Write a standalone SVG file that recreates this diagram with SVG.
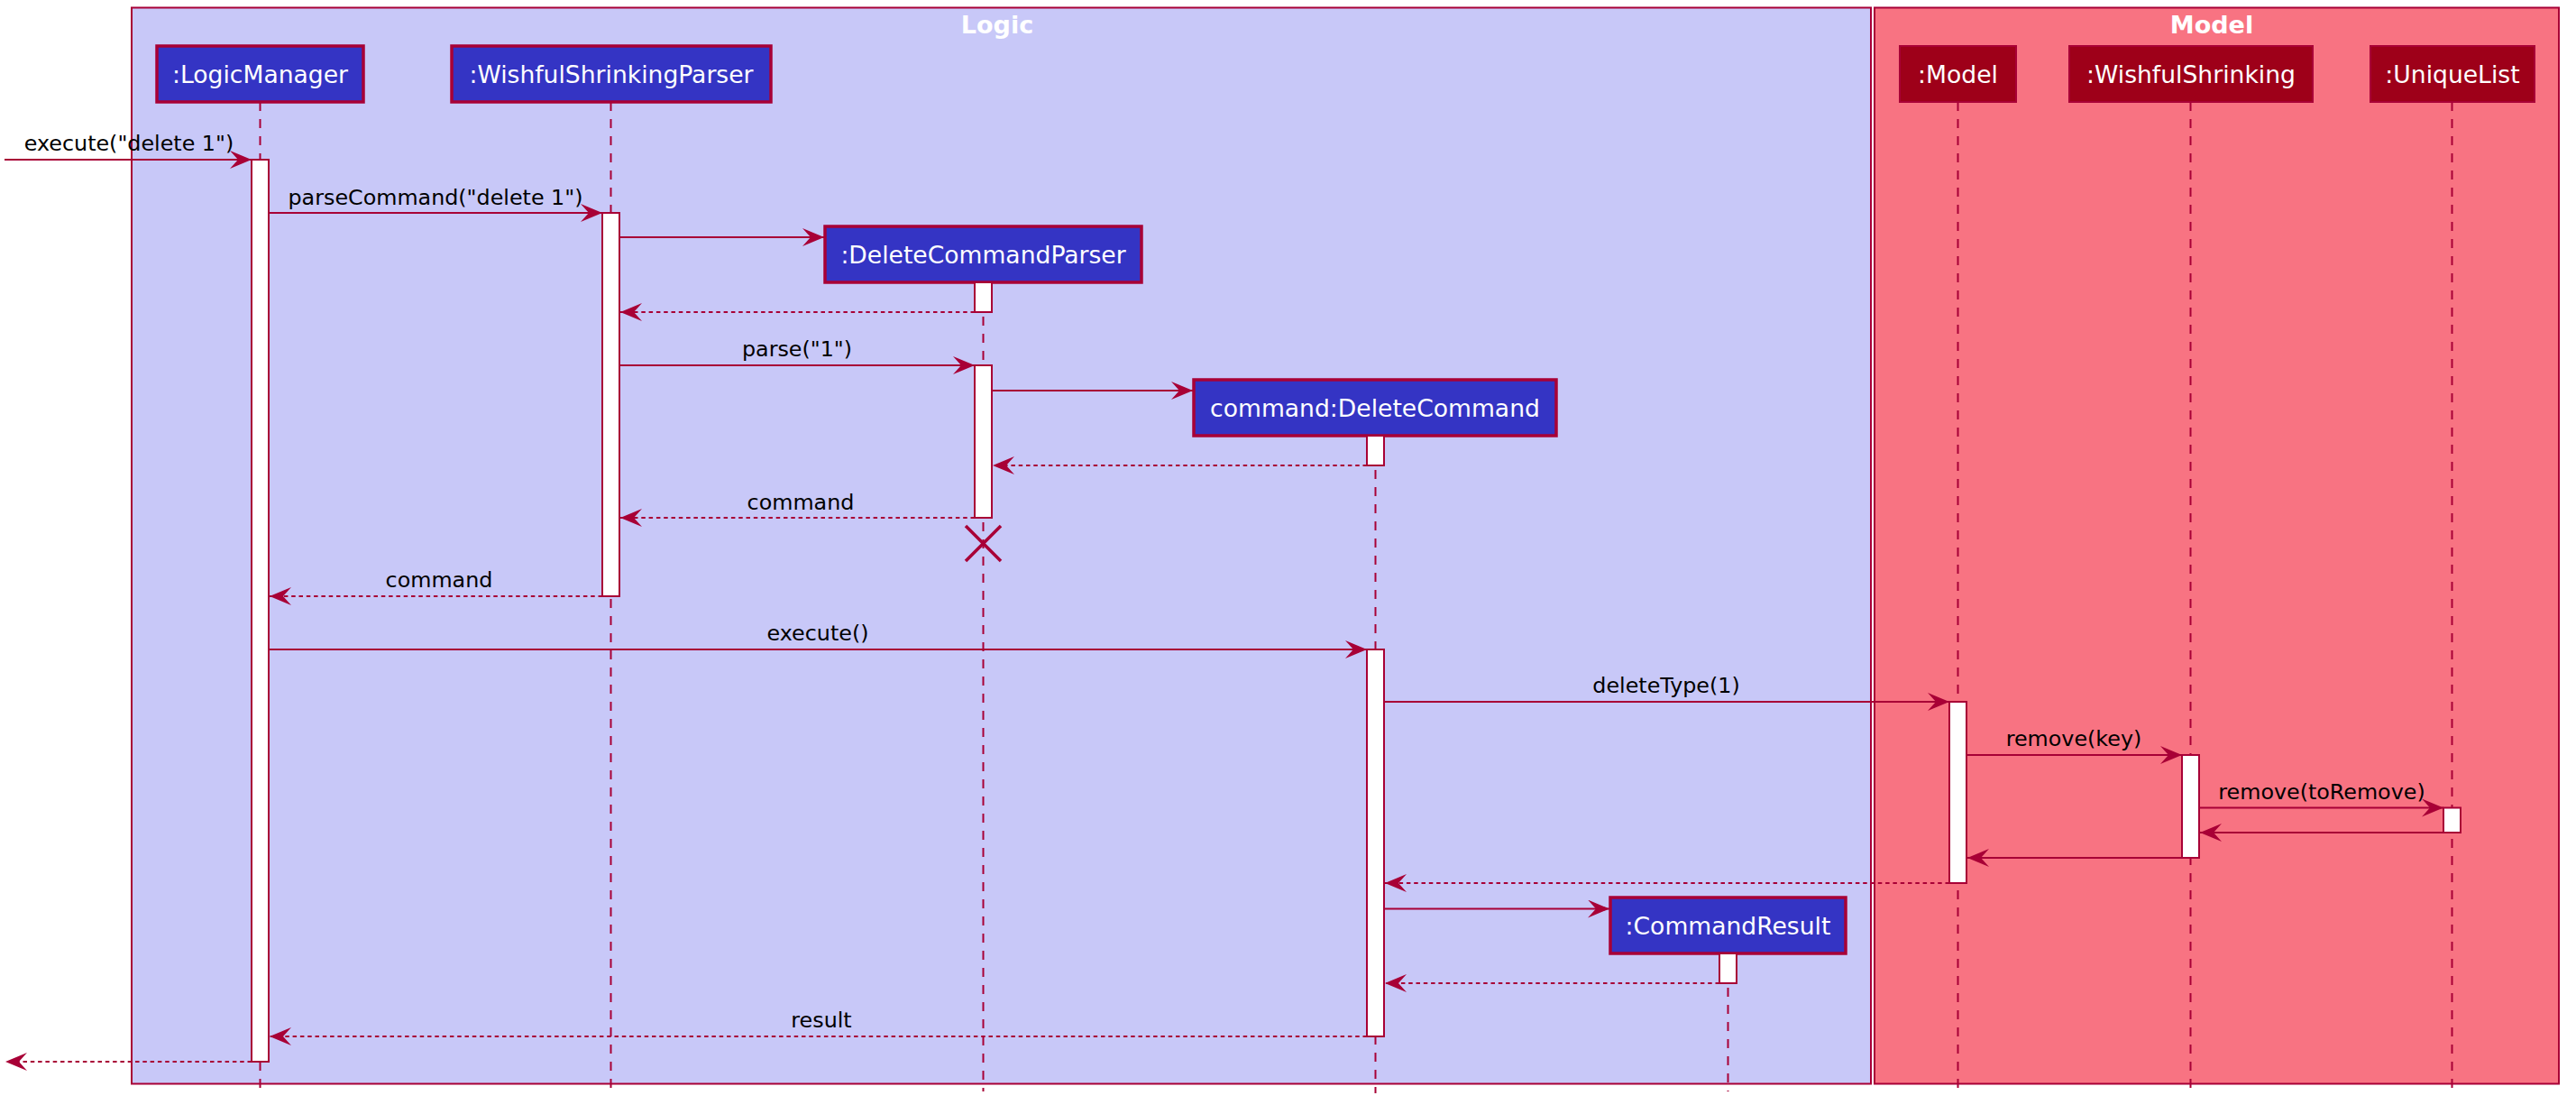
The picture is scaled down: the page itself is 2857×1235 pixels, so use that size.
<svg xmlns="http://www.w3.org/2000/svg" width="2857" height="1235" viewBox="0 0 2857 1235">
<style>
.bg{fill:#ffffff}
.grp{stroke:#A80036;stroke-width:2}
.title{font-family:"DejaVu Sans",sans-serif;font-weight:bold;font-size:27px;fill:#ffffff;text-anchor:middle}
.pb{fill:#3434C4;stroke:#A80036;stroke-width:3.5}
.pr{fill:#9E0019;stroke:#A80036;stroke-width:2}
.pt{font-family:"DejaVu Sans",sans-serif;font-size:26.6px;fill:#ffffff;text-anchor:middle}
.life{stroke:#A80036;stroke-width:2;stroke-dasharray:10,9;fill:none}
.act{fill:#ffffff;stroke:#A80036;stroke-width:2}
.msg{stroke:#A80036;stroke-width:2;fill:none}
.ret{stroke:#A80036;stroke-width:2.2;fill:none;stroke-dasharray:4.5,3.8}
.lbl{font-family:"DejaVu Sans",sans-serif;font-size:23.8px;fill:#000000;text-anchor:middle}
.x{stroke:#A80036;stroke-width:3.5}
</style>
<defs>
<marker id="ah" markerUnits="userSpaceOnUse" markerWidth="26" markerHeight="22" refX="24" refY="10" orient="auto" viewBox="0 0 26 22">
<path d="M24,10 L0,0 L9,10 L0,20 Z" fill="#A80036"/>
</marker>
</defs>
<rect class="bg" x="0" y="0" width="2857" height="1235"/>

<g id="group-logic">
<rect class="grp" x="146" y="8.5" width="1929" height="1193" fill="#C8C8F8"/>
<text class="title" x="1106" y="37">Logic</text>
</g>
<g id="group-model">
<rect class="grp" x="2079" y="8.5" width="759" height="1193" fill="#F87382"/>
<text class="title" x="2453" y="37">Model</text>
</g>

<g id="node-logicmanager">
<line class="life" x1="288.5" y1="113" x2="288.5" y2="1210"/>
<rect class="pb" x="174" y="51" width="229" height="62"/>
<text class="pt" x="288.5" y="92">:LogicManager</text>
<rect class="act" x="279" y="177" width="19" height="1000"/>
</g>

<g id="node-wishfulshrinkingparser">
<line class="life" x1="677.5" y1="113" x2="677.5" y2="1210"/>
<rect class="pb" x="501" y="51" width="354" height="62"/>
<text class="pt" x="678" y="92">:WishfulShrinkingParser</text>
<rect class="act" x="668" y="236" width="19" height="425"/>
</g>

<g id="node-deletecommandparser">
<line class="life" x1="1090.5" y1="313" x2="1090.5" y2="1210"/>
<rect class="pb" x="915" y="251" width="351" height="62"/>
<text class="pt" x="1090.5" y="292">:DeleteCommandParser</text>
<rect class="act" x="1081" y="313" width="19" height="33"/>
<rect class="act" x="1081" y="405" width="19" height="169"/>
<line class="x" x1="1071" y1="583" x2="1110" y2="622"/>
<line class="x" x1="1110" y1="583" x2="1071" y2="622"/>
</g>

<g id="node-deletecommand">
<line class="life" x1="1525.5" y1="483" x2="1525.5" y2="1212"/>
<rect class="pb" x="1324" y="421" width="402" height="62"/>
<text class="pt" x="1525" y="462">command:DeleteCommand</text>
<rect class="act" x="1516" y="483" width="19" height="33"/>
<rect class="act" x="1516" y="720" width="19" height="429"/>
</g>

<g id="node-commandresult">
<line class="life" x1="1916.5" y1="1057" x2="1916.5" y2="1210"/>
<rect class="pb" x="1786" y="995" width="261" height="62"/>
<text class="pt" x="1916.5" y="1036">:CommandResult</text>
<rect class="act" x="1907" y="1057" width="19" height="33"/>
</g>

<g id="node-model">
<line class="life" x1="2171.5" y1="113" x2="2171.5" y2="1208"/>
<rect class="pr" x="2107" y="51" width="129" height="62"/>
<text class="pt" x="2171.5" y="92">:Model</text>
<rect class="act" x="2162" y="778" width="19" height="201"/>
</g>

<g id="node-wishfulshrinking">
<line class="life" x1="2429.5" y1="113" x2="2429.5" y2="1208"/>
<rect class="pr" x="2295" y="51" width="270" height="62"/>
<text class="pt" x="2430" y="92">:WishfulShrinking</text>
<rect class="act" x="2420" y="837" width="19" height="114"/>
</g>

<g id="node-uniquelist">
<line class="life" x1="2719.5" y1="113" x2="2719.5" y2="1208"/>
<rect class="pr" x="2629" y="51" width="182" height="62"/>
<text class="pt" x="2720" y="92">:UniqueList</text>
<rect class="act" x="2710" y="895.5" width="19" height="27.5"/>
</g>

<g id="connectors">
<line class="msg" x1="5" y1="177" x2="279" y2="177" marker-end="url(#ah)"/>
<text class="lbl" x="143" y="167">execute("delete 1")</text>

<line class="msg" x1="298" y1="236" x2="668" y2="236" marker-end="url(#ah)"/>
<text class="lbl" x="483" y="227">parseCommand("delete 1")</text>

<line class="msg" x1="687" y1="263" x2="914" y2="263" marker-end="url(#ah)"/>

<line class="ret" x1="1081" y1="346" x2="688" y2="346" marker-end="url(#ah)"/>

<line class="msg" x1="687" y1="405" x2="1081" y2="405" marker-end="url(#ah)"/>
<text class="lbl" x="884" y="395">parse("1")</text>

<line class="msg" x1="1100" y1="433" x2="1323" y2="433" marker-end="url(#ah)"/>

<line class="ret" x1="1516" y1="516" x2="1101" y2="516" marker-end="url(#ah)"/>

<line class="ret" x1="1081" y1="574" x2="688" y2="574" marker-end="url(#ah)"/>
<text class="lbl" x="888" y="565">command</text>

<line class="ret" x1="668" y1="661" x2="299" y2="661" marker-end="url(#ah)"/>
<text class="lbl" x="487" y="651">command</text>

<line class="msg" x1="298" y1="720" x2="1516" y2="720" marker-end="url(#ah)"/>
<text class="lbl" x="907" y="710">execute()</text>

<line class="msg" x1="1535" y1="778" x2="2162" y2="778" marker-end="url(#ah)"/>
<text class="lbl" x="1848" y="768">deleteType(1)</text>

<line class="msg" x1="2181" y1="837" x2="2420" y2="837" marker-end="url(#ah)"/>
<text class="lbl" x="2300" y="827">remove(key)</text>

<line class="msg" x1="2439" y1="895.5" x2="2710" y2="895.5" marker-end="url(#ah)"/>
<text class="lbl" x="2575" y="886">remove(toRemove)</text>

<line class="msg" x1="2710" y1="923" x2="2440" y2="923" marker-end="url(#ah)"/>

<line class="msg" x1="2420" y1="951" x2="2182" y2="951" marker-end="url(#ah)"/>

<line class="ret" x1="2162" y1="979" x2="1536" y2="979" marker-end="url(#ah)"/>

<line class="msg" x1="1535" y1="1007.5" x2="1785" y2="1007.5" marker-end="url(#ah)"/>

<line class="ret" x1="1907" y1="1090" x2="1536" y2="1090" marker-end="url(#ah)"/>

<line class="ret" x1="1516" y1="1149" x2="299" y2="1149" marker-end="url(#ah)"/>
<text class="lbl" x="911" y="1139">result</text>

<line class="ret" x1="279" y1="1177" x2="6" y2="1177" marker-end="url(#ah)"/>
</g>
</svg>
